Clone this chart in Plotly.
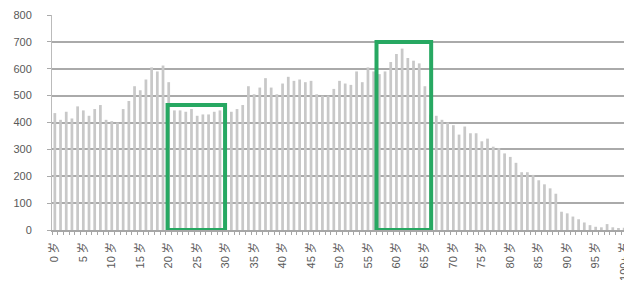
import plotly.graph_objects as go

# Ages 0..100 (last category is "100+")
ages = list(range(101))
age_labels = [f"{a} 岁" if a < 100 else "100+ 岁" for a in ages]

# Population count per single year of age
population = [
    435, 410, 440, 415, 460, 445, 425, 450, 465, 410,   # 0-9
    405, 400, 450, 480, 535, 520, 560, 605, 590, 612,   # 10-19
    550, 445, 445, 440, 450, 425, 430, 430, 440, 445,   # 20-29
    415, 440, 450, 465, 535, 505, 530, 565, 530, 505,   # 30-39
    545, 570, 555, 560, 550, 555, 505, 500, 500, 525,   # 40-49
    555, 545, 540, 590, 550, 605, 590, 580, 590, 625,   # 50-59
    655, 675, 640, 630, 620, 535, 430, 425, 410, 400,   # 60-69
    390, 355, 385, 360, 360, 330, 340, 310, 305, 285,   # 70-79
    272, 250, 215, 215, 205, 185, 170, 155, 135, 68,    # 80-89
    62, 50, 40, 28, 18, 12, 10, 22, 10, 6,              # 90-99
    8,                                                  # 100+
]

# Highlight boxes: (start age position, end age position, top value)
highlight_start = [19.8, 56.5]
highlight_end = [29.9, 66.1]
highlight_top = [465, 700]

tick_every = 5
tick_ages = ages[::tick_every]
tick_texts = age_labels[::tick_every]

font_family = "Liberation Sans, Noto Sans CJK SC, sans-serif"

fig = go.Figure(
    go.Bar(
        x=ages,
        y=population,
        marker=dict(color="#c8c8c8", line=dict(width=0)),
        hoverinfo="skip",
    )
)

for x0, x1, top in zip(highlight_start, highlight_end, highlight_top):
    fig.add_shape(
        type="rect", xref="x", yref="y",
        x0=x0, x1=x1, y0=0, y1=top,
        line=dict(color="#27a862", width=4),
        fillcolor="rgba(0,0,0,0)",
        layer="above",
    )

# the page body adds an 8px offset; size/margins compensate for it
fig.update_layout(
    width=624, height=296,
    margin=dict(l=44, r=5, t=7, b=74, autoexpand=False),
    paper_bgcolor="white", plot_bgcolor="white",
    bargap=0.52,
    showlegend=False,
    font=dict(family=font_family, size=11, color="#595959"),
)

fig.update_xaxes(
    range=[-0.5, 100.5],
    tickmode="array", tickvals=tick_ages, ticktext=tick_texts,
    tickangle=-90,
    tickfont=dict(size=11, color="#595959"),
    ticks="",
    ticklabelstandoff=6,
    ticklabeloverflow="allow",
    automargin=False,
    showgrid=False, zeroline=False,
    showline=True, linecolor="#a6a6a6", linewidth=1.5,
    minor=dict(ticks="outside", ticklen=3, tick0=0.5, dtick=1,
               tickcolor="#a6a6a6", showgrid=False),
)

fig.update_yaxes(
    range=[0, 800], dtick=100,
    showgrid=True, gridcolor="#aaaaaa", gridwidth=1.5,
    zeroline=False,
    automargin=False,
    showline=True, linecolor="#bbbbbb", linewidth=1,
    ticks="outside", ticklen=4, tickcolor="#aaaaaa",
    ticklabelstandoff=13,
    tickfont=dict(size=11, color="#595959"),
)

fig.write_html("out.html")
